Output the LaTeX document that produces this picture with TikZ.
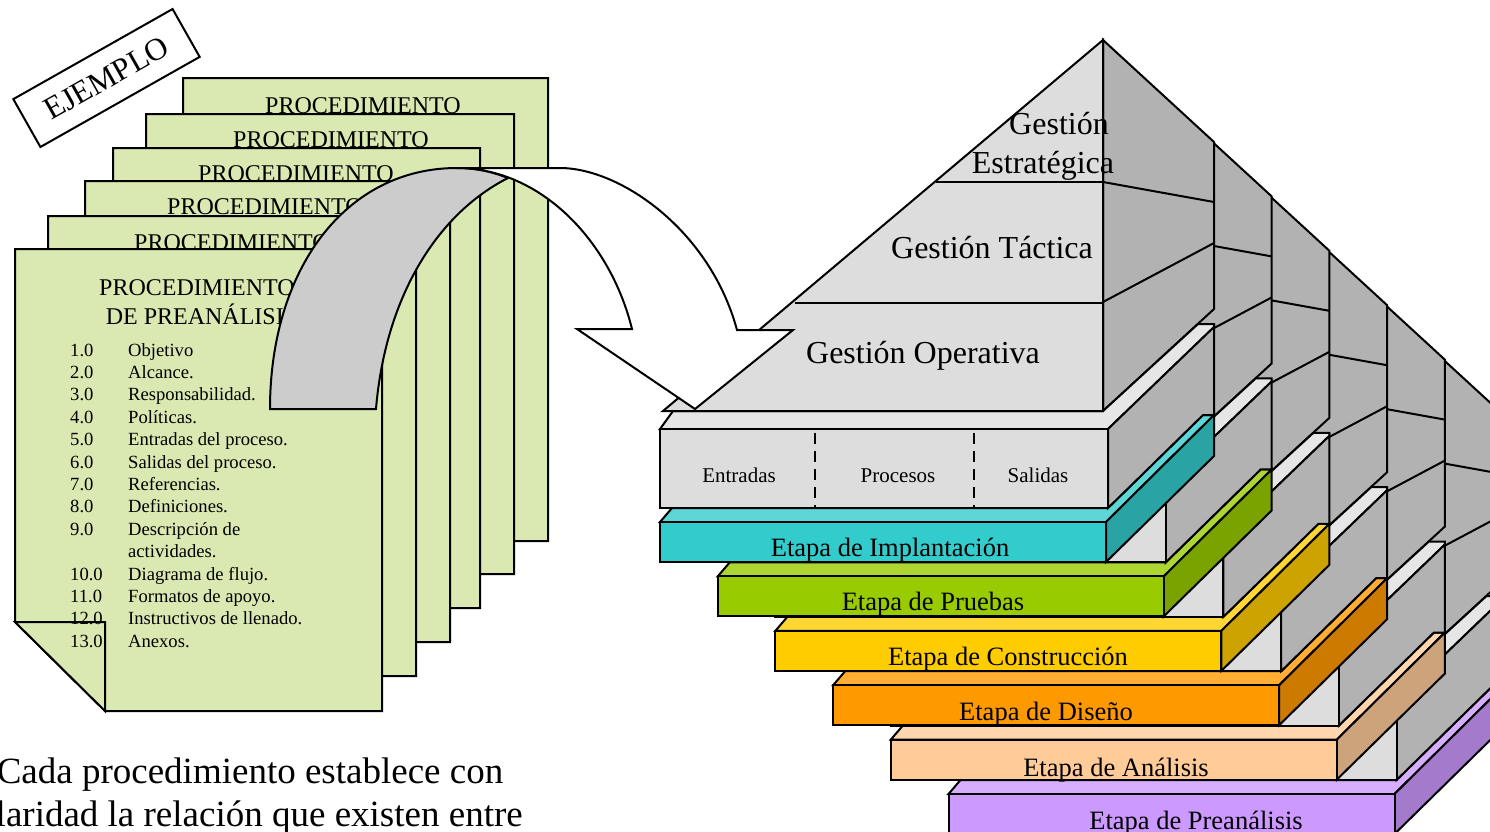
\documentclass[tikz,border=0pt]{standalone}
\usepackage{fontspec}
\setmainfont{Liberation Serif}
\definecolor{hojaverde}{HTML}{D9E9B1}
\definecolor{ladogris}{HTML}{B2B2B2}
\definecolor{frentegris}{HTML}{DDDDDD}
\definecolor{tapagris}{HTML}{E6E6E6}
\definecolor{flechagris}{HTML}{CCCCCC}
\definecolor{turquesa}{HTML}{33CCCC}
\definecolor{turquesatop}{HTML}{5CD6D6}
\definecolor{turquesaside}{HTML}{29A3A3}
\definecolor{verde}{HTML}{99CC00}
\definecolor{verdetop}{HTML}{ADD633}
\definecolor{verdeside}{HTML}{7AA300}
\definecolor{amarillo}{HTML}{FFCC00}
\definecolor{amarillotop}{HTML}{FFD633}
\definecolor{amarilloside}{HTML}{CCA300}
\definecolor{naranja}{HTML}{FF9900}
\definecolor{naranjatop}{HTML}{FFAD33}
\definecolor{naranjaside}{HTML}{CC7A00}
\definecolor{durazno}{HTML}{FFCC99}
\definecolor{duraznotop}{HTML}{FFD6AD}
\definecolor{duraznoside}{HTML}{CCA37A}
\definecolor{lila}{HTML}{CC99FF}
\definecolor{lilatop}{HTML}{D6ADFF}
\definecolor{lilaside}{HTML}{A37ACC}
\tikzset{
    linea/.style={draw=black,line width=2pt,line join=miter},
    hoja/.style={linea,fill=hojaverde},
    titulo/.style={inner sep=0pt,font=\fontsize{24}{29}\selectfont,align=center},
    lista/.style={inner sep=0pt,anchor=base west,font=\fontsize{18.6}{22}\selectfont},
    gestion/.style={inner sep=0pt,font=\fontsize{32}{39}\selectfont,align=center},
    etapa/.style={inner sep=0pt,font=\fontsize{26.5}{30}\selectfont},
    celda/.style={inner sep=0pt,font=\fontsize{21}{25}\selectfont},
}
\begin{document}
\begin{tikzpicture}[x=1pt,y=-1pt]
    \useasboundingbox (0,0) rectangle (1490,831);
    \clip (0,0) rectangle (1490,831);

    \foreach \i/\xa/\ya/\xb/\yb/\tx/\ty in {5/183/78/548/541/363/106,4/146/114/514/574/331/140,3/113/148/480/608/296/174,2/85/181/450/642/265/207,1/48/216/416/676/232/243}{
        \draw[hoja] (\xa,\ya) -- (\xb,\ya) -- (\xb,\yb) -- (\xa+90,\yb) -- (\xa,\yb-89) -- cycle;
        \node[titulo] (titulo\i) at (\tx,\ty) {PROCEDIMIENTO};
    }
    \draw[hoja] (15,249) -- (382,249) -- (382,711) -- (105,711) -- (15,622) -- cycle;
    \draw[hoja] (15,622) -- (105,622) -- (105,711) -- cycle;
    \node[titulo] (titulo0) at (197,302) {PROCEDIMIENTO\\\hspace*{9pt}DE PREANÁLISIS};
    \foreach \num/\txt/\y [count=\n] in {1.0/Objetivo/356,2.0/Alcance./378,3.0/Responsabilidad./400,4.0/Políticas./423,5.0/Entradas del proceso./445,6.0/Salidas del proceso./468,7.0/Referencias./490,8.0/Definiciones./512,9.0/Descripción de/535,{}/actividades./557,10.0/Diagrama de flujo./580,11.0/Formatos de apoyo./602,12.0/Instructivos de llenado./624,13.0/Anexos./647}{
        \node[lista] (num\n) at (70,\y) {\num};
        \node[lista] (item\n) at (128,\y) {\txt};
    }

    \node[linea,fill=white,rotate=29.5,minimum width=183pt,minimum height=55pt,inner sep=0pt,font=\fontsize{31.5}{34}\selectfont] (ejemplo) at (106.5,78) {EJEMPLO};

    \foreach \k/\tono in {5/lila,4/durazno,3/naranja,2/amarillo,1/verde,0/turquesa}{
        \begin{scope}[shift={(57.7*\k,54.4*\k)}]
            \draw[linea,fill=ladogris] (1103,40) -- (1214,142) -- (1214,309) -- (1103,411) -- cycle;
            \draw[linea] (1103,182) -- (1214,202);
            \draw[linea] (1103,302) -- (1214,243);
            \draw[linea,fill=\tono top] (660,522) -- (672,508) -- (1108,508) -- (1203,415) -- (1214,415) -- (1106,522) -- cycle;
            \draw[linea,fill=\tono side] (1106,522) -- (1214,415) -- (1214,456) -- (1106,562) -- cycle;
            \draw[linea,fill=\tono] (660,522) rectangle (1106,562);
            \draw[linea,fill=tapagris] (660,429) -- (673,411) -- (1103,411) -- (1198,324) -- (1214,324) -- (1214,327) -- (1108,429) -- cycle;
            \draw[linea,fill=ladogris] (1108,429) -- (1214,327) -- (1214,415) -- (1203,415) -- (1108,508) -- cycle;
            \draw[linea,fill=frentegris] (660,429) rectangle (1108,508);
        \end{scope}
    }
    \draw[linea,fill=frentegris] (1103,40) -- (663,411) -- (1103,411) -- cycle;
    \draw[linea] (936,182) -- (1103,182);
    \draw[linea] (795,303) -- (1103,303);
    \draw[linea,dashed,dash pattern=on 11pt off 7pt] (815,433) -- (815,508);
    \draw[linea,dashed,dash pattern=on 11pt off 7pt] (974,433) -- (974,508);

    \draw[linea,fill=flechagris] (270,409) -- (376,409) .. controls (385,300) and (435,215) .. (508,178) .. controls (490,171) and (475,168) .. (457,168) .. controls (345,168) and (270,270) .. (270,409) -- cycle;
    \draw[linea,fill=white] (457,168) -- (560,168) .. controls (620,168) and (710,230) .. (737,330) -- (793,330) -- (695,409) -- (577,329) -- (632,329) .. controls (610,240) and (540,168) .. (457,168) -- cycle;

    \node[gestion] (estrategica) at (1043,146) {\hspace*{32pt}Gestión\\Estratégica};
    \node[gestion] (tactica) at (992,248) {Gestión Táctica};
    \node[gestion] (operativa) at (923,356) {Gestión Operativa};
    \node[celda] (entradas) at (739,475) {Entradas};
    \node[celda] (procesos) at (898,476) {Procesos};
    \node[celda] (salidas) at (1038,475) {Salidas};
    \foreach \nom/\txt/\x/\y in {implantacion/Implantación/890/550,pruebas/Pruebas/933/604,construccion/Construcción/1008/659,diseno/Diseño/1046/714,analisis/Análisis/1116/770,preanalisis/Preanálisis/1196/823}{
        \node[etapa] (\nom) at (\x,\y) {Etapa de \txt};
    }

    \node[inner sep=0pt,align=center,font=\fontsize{37}{43}\selectfont] (nota) at (250,796) {Cada procedimiento establece con\\\hspace*{2pt}claridad la relación que existen entre};
\end{tikzpicture}
\end{document}
